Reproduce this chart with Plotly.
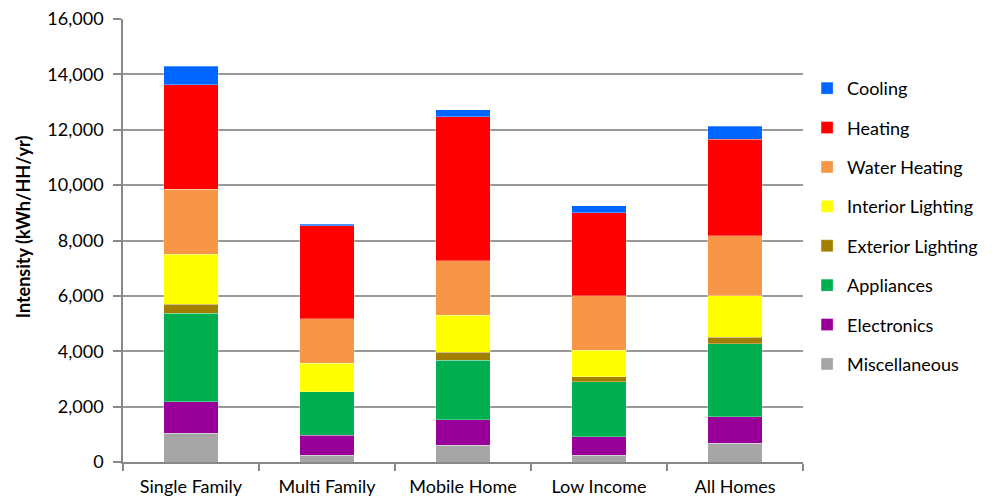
import plotly.graph_objects as go

categories = ["Single Family", "Multi Family", "Mobile Home", "Low Income", "All Homes"]

miscellaneous = [1040, 250, 610, 250, 670]
electronics = [1140, 710, 910, 660, 970]
appliances = [3190, 1580, 2150, 1990, 2640]
exterior_lighting = [330, 0, 300, 180, 220]
interior_lighting = [1810, 1020, 1330, 950, 1500]
water_heating = [2350, 1610, 1970, 1970, 2170]
heating = [3760, 3370, 5200, 3000, 3480]
cooling = [680, 50, 260, 250, 480]

series = [
    ("Miscellaneous", miscellaneous, "#A6A6A6"),
    ("Electronics", electronics, "#990099"),
    ("Appliances", appliances, "#00B050"),
    ("Exterior Lighting", exterior_lighting, "#A37F00"),
    ("Interior Lighting", interior_lighting, "#FFFF00"),
    ("Water Heating", water_heating, "#F79646"),
    ("Heating", heating, "#FF0000"),
    ("Cooling", cooling, "#0066FF"),
]

fig = go.Figure()
n = len(series)
for i, (name, vals, color) in enumerate(series):
    fig.add_trace(go.Bar(
        x=categories, y=vals, name=name, legendgroup=name,
        legendrank=100 * (n - i),
        marker=dict(color=color, line=dict(color="rgba(255,255,255,0.5)", width=0.6)),
    ))

FONT = "Lato, Carlito, 'Open Sans', sans-serif"

fig.update_layout(
    barmode="stack",
    bargap=0.6,
    width=987, height=490,
    margin=dict(l=115, r=192, t=11, b=36),
    paper_bgcolor="white", plot_bgcolor="white",
    font=dict(family=FONT, size=16, color="#000000"),
    legend=dict(
        traceorder="grouped",
        x=1.006, xanchor="left", y=0.885, yanchor="top",
        font=dict(size=18, family=FONT),
        tracegroupgap=13,
        itemwidth=30,
    ),
    showlegend=True,
    annotations=[dict(
        text="<b>Intensity (kWh/HH/yr)</b>",
        xref="paper", yref="paper", x=-0.147, y=0.53,
        xanchor="center", yanchor="middle", textangle=-90,
        showarrow=False, font=dict(size=18, family=FONT),
    )],
)

fig.update_xaxes(
    type="category",
    automargin=False,
    showline=True, linecolor="#888888", linewidth=1.5,
    ticks="outside", tickson="boundaries", ticklen=7, tickcolor="#888888", tickwidth=1.5,
    tickfont=dict(size=18, family=FONT),
    ticklabelstandoff=8,
    showgrid=False,
)
fig.update_yaxes(
    range=[0, 16000],
    dtick=2000,
    tickformat=",d",
    automargin=False,
    showline=True, linecolor="#888888", linewidth=1.5,
    ticks="outside", ticklen=8, tickcolor="#888888", tickwidth=1.5,
    ticklabelstandoff=6,
    ticklabeloverflow="allow",
    showgrid=True, gridcolor="#999999", gridwidth=1.5,
    tickfont=dict(size=18, family=FONT),
    zeroline=False,
)

fig.write_html("out.html")
